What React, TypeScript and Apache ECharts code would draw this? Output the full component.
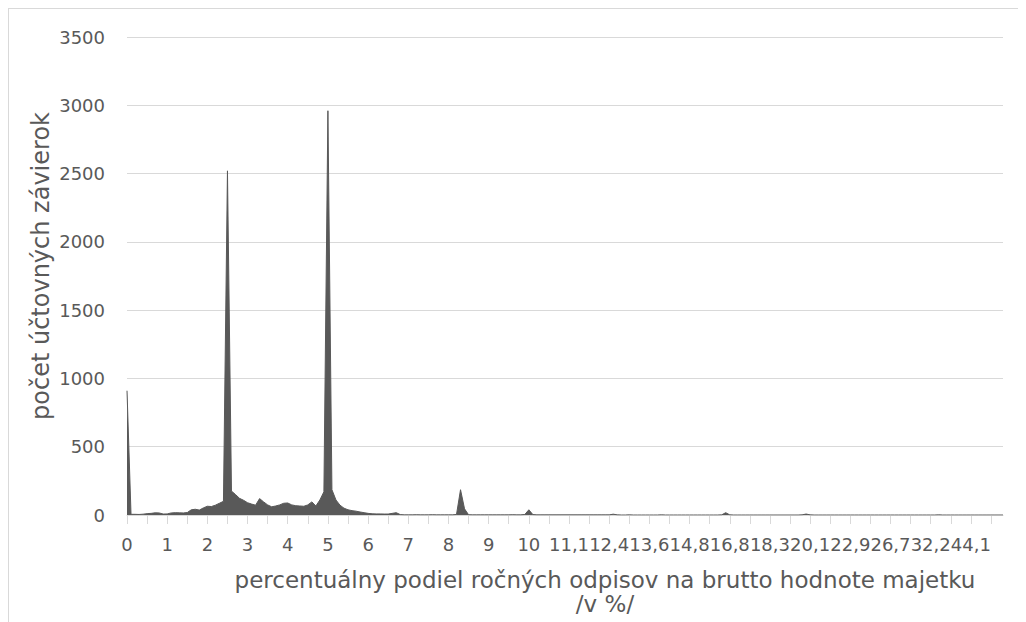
import React, { useEffect, useRef } from "react";
import * as echarts from "echarts";

// category values (share of annual depreciation, %)
const categories: number[] = [
  0, 0.1, 0.2, 0.3, 0.4, 0.5, 0.6, 0.7, 0.8, 0.9,
  1, 1.1, 1.2, 1.3, 1.4, 1.5, 1.6, 1.7, 1.8, 1.9,
  2, 2.1, 2.2, 2.3, 2.4, 2.5, 2.6, 2.7, 2.8, 2.9,
  3, 3.1, 3.2, 3.3, 3.4, 3.5, 3.6, 3.7, 3.8, 3.9,
  4, 4.1, 4.2, 4.3, 4.4, 4.5, 4.6, 4.7, 4.8, 4.9,
  5, 5.1, 5.2, 5.3, 5.4, 5.5, 5.6, 5.7, 5.8, 5.9,
  6, 6.1, 6.2, 6.3, 6.4, 6.5, 6.6, 6.7, 6.8, 6.9,
  7, 7.1, 7.2, 7.3, 7.4, 7.5, 7.6, 7.7, 7.8, 7.9,
  8, 8.1, 8.2, 8.3, 8.4, 8.5, 8.6, 8.7, 8.8, 8.9,
  9, 9.1, 9.2, 9.3, 9.4, 9.5, 9.6, 9.7, 9.8, 9.9,
  10, 10.1, 10.2, 10.3, 10.4, 10.5, 10.6, 10.7, 10.8, 11,
  11.1, 11.2, 11.3, 11.4, 11.5, 11.6, 11.8, 12, 12.1, 12.3,
  12.4, 12.5, 12.6, 12.7, 12.8, 12.9, 13, 13.2, 13.3, 13.5,
  13.6, 13.7, 13.8, 13.9, 14, 14.1, 14.3, 14.4, 14.5, 14.7,
  14.8, 15, 15.2, 15.4, 15.5, 15.7, 16, 16.2, 16.4, 16.7,
  16.8, 16.9, 17, 17.2, 17.4, 17.5, 17.7, 17.9, 18, 18.2,
  18.3, 18.5, 18.7, 18.9, 19, 19.2, 19.4, 19.6, 19.8, 20,
  20.1, 20.3, 20.5, 20.8, 21, 21.3, 21.5, 21.9, 22.2, 22.5,
  22.9, 23.3, 23.6, 24, 24.4, 24.8, 25, 25.5, 26, 26.3,
  26.7, 27, 27.5, 28, 28.6, 29, 29.6, 30, 30.8, 31.5,
  32.2, 33, 33.3, 34.5, 35, 36.4, 37.5, 38.9, 40, 42,
  44.1, 45, 50, 55.6, 60, 66.7, 75, 83.3, 100,
];

// number of financial statements per category
const counts: number[] = [
  910, 5, 5, 4, 6, 10, 12, 16, 15, 7,
  8, 15, 17, 16, 15, 18, 38, 42, 36, 52,
  64, 62, 72, 86, 100, 2520, 175, 150, 122, 108,
  90, 80, 72, 120, 96, 74, 60, 66, 74, 86,
  88, 74, 68, 66, 64, 74, 96, 66, 110, 170,
  2960, 185, 110, 72, 50, 38, 32, 28, 22, 17,
  12, 9, 8, 8, 7, 7, 12, 17, 3, 1,
  1, 1, 2, 1, 1, 1, 2, 1, 1, 1,
  1, 1, 4, 185, 45, 2, 1, 1, 1, 1,
  1, 1, 1, 1, 1, 1, 2, 1, 1, 4,
  38, 3, 1, 1, 1, 1, 1, 1, 1, 1,
  1, 1, 1, 1, 1, 1, 1, 1, 1, 1,
  1, 6, 1, 0, 0, 1, 0, 0, 0, 0,
  0, 0, 0, 1, 0, 0, 0, 0, 0, 0,
  0, 0, 0, 0, 0, 0, 0, 0, 1, 17,
  1, 0, 0, 0, 0, 0, 0, 0, 0, 0,
  0, 0, 0, 0, 0, 0, 0, 0, 1, 7,
  1, 0, 0, 0, 0, 0, 0, 0, 0, 0,
  0, 0, 0, 0, 0, 0, 0, 0, 0, 0,
  0, 0, 0, 0, 0, 0, 0, 0, 0, 0,
  0, 0, 1, 0, 0, 0, 0, 0, 0, 0,
  0, 0, 0, 0, 0, 0, 0, 0, 0,
];

const yTicks = { min: 0, max: 3500, interval: 500 };
const xTitle = "percentuálny podiel ročných odpisov na brutto hodnote majetku\n/v %/";
const yTitle = "počet účtovných závierok";

const FONT = "DejaVu Sans";
const TEXT = "#595959";
const GRID = "#d9d9d9";

export default function App() {
  const ref = useRef<HTMLDivElement>(null);
  useEffect(() => {
    document.documentElement.style.overflow = "hidden";
    document.body.style.overflow = "hidden";
    if (!ref.current) return;
    const chart = echarts.init(ref.current, undefined, { renderer: "svg" });
    chart.setOption({
      animation: false,
      backgroundColor: "#ffffff",
      textStyle: { fontFamily: FONT },
      grid: { left: 119, right: 23, top: 29, bottom: 107, containLabel: false },
      xAxis: {
        type: "category",
        boundaryGap: false,
        data: categories.map((c) => String(c).replace(".", ",")),
        axisLine: { show: true, lineStyle: { color: GRID, width: 1 } },
        axisTick: { show: true, interval: 4, length: 9, lineStyle: { color: GRID } },
        axisLabel: { interval: 9, color: TEXT, fontSize: 18, fontFamily: FONT, margin: 20 },
        splitLine: { show: false },
      },
      yAxis: {
        type: "value",
        min: yTicks.min,
        max: yTicks.max,
        interval: yTicks.interval,
        axisLine: { show: false },
        axisTick: { show: false },
        axisLabel: {
          color: TEXT,
          fontSize: 18,
          fontFamily: FONT,
          margin: 22,
          formatter: (v: number) => String(v),
        },
        splitLine: { lineStyle: { color: GRID, width: 1 } },
      },
      series: [
        {
          type: "line",
          data: counts,
          symbol: "none",
          smooth: false,
          lineStyle: { color: "#595959", width: 1 },
          areaStyle: { color: "#595959", opacity: 1 },
        },
      ],
      graphic: [
        { type: "line", shape: { x1: 0, y1: 0.5, x2: 1018, y2: 0.5 }, style: { stroke: GRID, lineWidth: 1 } },
        { type: "line", shape: { x1: 0.5, y1: 0, x2: 0.5, y2: 614 }, style: { stroke: GRID, lineWidth: 1 } },
        {
          type: "text",
          x: 597,
          y: 560,
          style: {
            text: xTitle,
            fill: TEXT,
            font: `23px '${FONT}'`,
            textAlign: "center",
            textVerticalAlign: "top",
            lineHeight: 24,
          },
        },
        {
          type: "text",
          x: 33,
          y: 258,
          rotation: Math.PI / 2,
          style: {
            text: yTitle,
            fill: TEXT,
            font: `24px '${FONT}'`,
            textAlign: "center",
            textVerticalAlign: "middle",
          },
        },
      ],
    });
    return () => chart.dispose();
  }, []);
  return <div ref={ref} style={{ width: 1018, height: 614 }} />;
}
